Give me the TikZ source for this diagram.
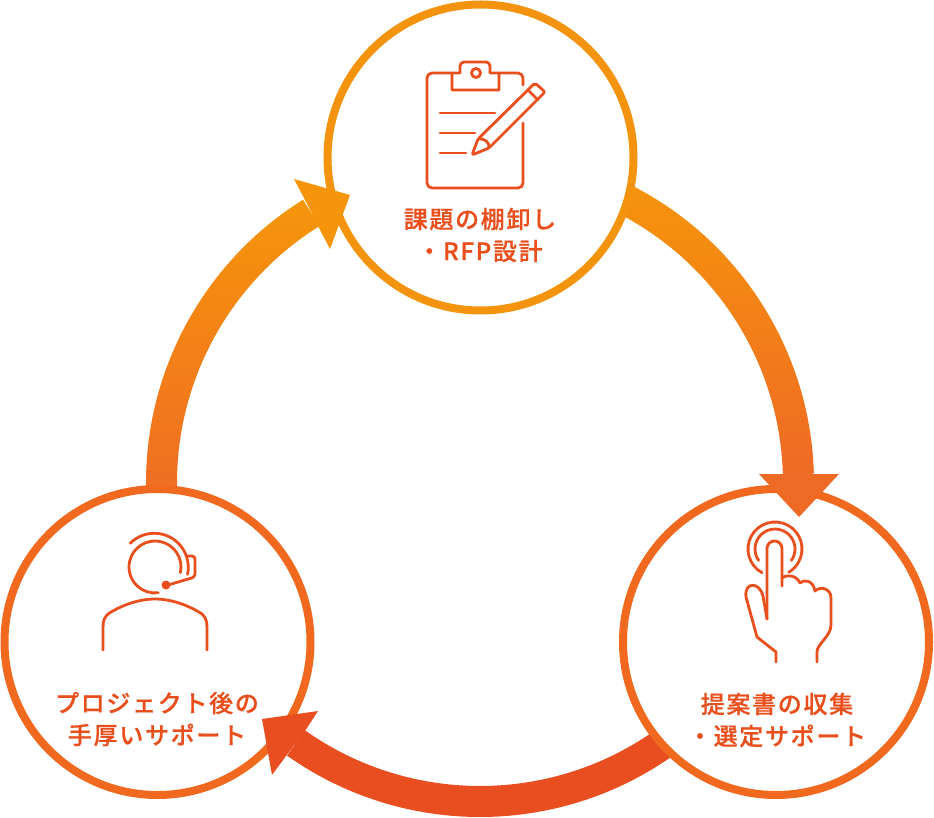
\documentclass[tikz,border=0pt]{standalone}
\usepackage{fontspec}
\newfontfamily\jpfont[LetterSpace=7,FakeBold=0.6]{Noto Sans CJK JP Medium}
\definecolor{ringA}{HTML}{F4930E}
\definecolor{ringB}{HTML}{F0691F}
\definecolor{arrowTop}{HTML}{F6950B}
\definecolor{arrowMid}{HTML}{EF6A25}
\definecolor{arrowEnd}{HTML}{E84E20}
\definecolor{inkc}{HTML}{E94F1C}
\tikzset{
  ring/.style={circle,draw=#1,fill=white,line width=8pt,inner sep=0pt,outer sep=0pt,minimum size=306pt},
  icon/.style={draw=inkc,line width=2.8pt,line cap=round,line join=round},
  label/.style={text=inkc,font=\jpfont\fontsize{24}{32}\selectfont,align=center,inner sep=0pt},
}
\newcommand{\bandpath}[2]{([shift={(#1:334)}]big) arc[start angle=#1,end angle=#2,radius=334] -- ([shift={(#2:303)}]big) arc[start angle=#2,end angle=#1,radius=303] -- cycle}
\begin{document}
\begin{tikzpicture}[x=1pt,y=-1pt]
\useasboundingbox (0,0) rectangle (934,818);
\coordinate (big) at (480,483);
% shafts
\shade[top color=arrowTop,bottom color=arrowMid] \bandpath{174}{238};
\shade[top color=arrowTop,bottom color=arrowMid] \bandpath{-66}{-1.6};
\fill[arrowEnd] \bandpath{52}{125.3};
% rings
\node[ring=ringA] (top) at (480.5,157.5) {};
\node[ring=ringB] (right) at (776,642) {};
\node[ring=ringB] (left) at (157.5,642) {};
% heads
\fill[arrowTop] (294,179) -- (350,195) -- (330,249) -- (319,228) -- (305,200) -- cycle;
\fill[arrowMid] (759,474) -- (839,474) -- (799,517) -- cycle;
\fill[arrowEnd] (318,711) -- (262,719) -- (272,775) -- (286,756) -- (305,731) -- cycle;
% clipboard
\draw[icon] (523,85) -- (523,78) arc[start angle=0,end angle=-90,radius=5] -- (499,73) -- (499,90) -- (452,90) -- (452,73) -- (432,73) arc[start angle=-90,end angle=-180,radius=5] -- (427,183) arc[start angle=180,end angle=90,radius=5] -- (518,188) arc[start angle=90,end angle=0,radius=5] -- (523,123);
\draw[icon] (452,73) -- (460,73) -- (460,66) arc[start angle=180,end angle=270,radius=4] -- (486,62) arc[start angle=-90,end angle=0,radius=4] -- (490,73) -- (499,73);
\draw[icon] (476,73) circle[radius=4.5];
\draw[icon] (440,113) -- (495,113) (440,133) -- (475,133) (440,153) -- (466,153);
\draw[icon,rounded corners=2pt] (472,155) -- (478,139) -- (535,83) -- (545,92) -- (489,148) -- cycle;
\draw[icon] (478,139) .. controls (484,138) and (490,142) .. (489,148);
\draw[icon] (528,90) -- (538,100);
% hand
\draw[icon] (775,549) ++(118.6:27) arc[start angle=118.6,end angle=419.4,radius=27];
\draw[icon] (775,549) ++(145:20) arc[start angle=145,end angle=395,radius=20];
\draw[icon] (767,619) -- (767,548.5) arc[start angle=180,end angle=360,radius=7.5] -- (782,586);
\draw[icon] (782,578) .. controls (785,575) and (796,574) .. (800,583) .. controls (804,579) and (813,580) .. (815,591) .. controls (820,586) and (831,588) .. (831,598) -- (831,625) .. controls (831,636) and (817,644) .. (817,652) -- (817,662);
\draw[icon] (767,619) -- (763,596) .. controls (760,582) and (744,581) .. (746,597) -- (757,637) -- (776,652) -- (776,662);
% headset
\draw[icon] (155,567) ++(12.5:26) arc[start angle=12.5,end angle=-277,radius=26];
\draw[icon] (155,568) ++(225:35) arc[start angle=225,end angle=372,radius=34];
\draw[icon,rounded corners=3pt] (187,556) -- (195,556) -- (195,577) -- (168,585);
\fill[inkc] (166,585) circle[radius=4.5];
\draw[icon] (103,650) -- (103,627) .. controls (103,620) and (105,617) .. (108,614) .. controls (120,606) and (138,599) .. (155,599) .. controls (172,599) and (190,606) .. (202,614) .. controls (205,617) and (207,620) .. (207,627) -- (207,650);
% labels
\node[label] (topl) at (480,235) {課題の棚卸し\\・RFP設計};
\node[label] (rightl) at (777,720) {提案書の収集\\・選定サポート};
\node[label] (leftl) at (157,719) {プロジェクト後の\\手厚いサポート};
\end{tikzpicture}
\end{document}
